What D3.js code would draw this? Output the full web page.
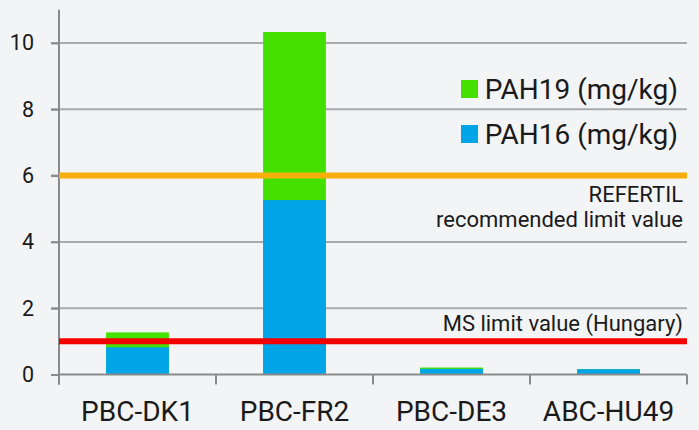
<!DOCTYPE html>
<html>
<head>
<meta charset="utf-8">
<script src="https://cdn.jsdelivr.net/npm/d3@7"></script>
<style>
  html, body { margin: 0; padding: 0; background: #f3f4f6; }
  svg { display: block; }
  text { font-family: Roboto, "Noto Sans", sans-serif; fill: #1a1a1a; }
</style>
</head>
<body>
<svg id="chart" width="699" height="430"></svg>
<script>
const categories = ["PBC-DK1", "PBC-FR2", "PBC-DE3", "ABC-HU49"];
const pah16 = [0.82, 5.26, 0.17, 0.16];
const pah19 = [1.27, 10.33, 0.21, 0.16];
const yTicks = [0, 2, 4, 6, 8, 10];
const limits = [
  { value: 6, color: "#f7ae0a", labels: ["REFERTIL", "recommended limit value"] },
  { value: 1, color: "#f50000", labels: ["MS limit value (Hungary)"] }
];
const legendItems = [
  { name: "PAH19 (mg/kg)", color: "#44e000" },
  { name: "PAH16 (mg/kg)", color: "#00a5e8" }
];

const svg = d3.select("#chart");
const x0 = 59, x1 = 687, yBase = 374.5, yTop = 9.8;

const x = d3.scaleBand().domain(categories).range([x0, x1]).paddingInner(0.6).paddingOuter(0.3);
const xTickScale = d3.scaleBand().domain(categories).range([x0, x1]);
const y = d3.scaleLinear().domain([0, 11]).range([yBase, yTop]);

// grid lines
svg.append("g").selectAll("line").data(yTicks.filter(d => d > 0)).join("line")
  .attr("x1", x0 - 8).attr("x2", x1).attr("y1", d => y(d)).attr("y2", d => y(d))
  .attr("stroke", "#a9aaac").attr("stroke-width", 2);

// y axis
const yAxis = d3.axisLeft(y).tickValues(yTicks).tickSize(8).tickPadding(17).tickFormat(d3.format("d"));
const gy = svg.append("g").attr("transform", `translate(${x0},0)`).call(yAxis);
gy.select(".domain").remove();
gy.selectAll(".tick line").attr("stroke", "#8a8a8a").attr("stroke-width", 2);
gy.selectAll(".tick text").attr("font-size", 21.5).attr("fill", "#1a1a1a").style("font-family", "Roboto, sans-serif");
svg.append("line").attr("x1", x0).attr("x2", x0).attr("y1", yTop).attr("y2", yBase + 10)
  .attr("stroke", "#8a8a8a").attr("stroke-width", 2);

// bars: PAH19 (total) behind, PAH16 in front
svg.append("g").selectAll("rect").data(categories).join("rect")
  .attr("x", d => x(d)).attr("width", x.bandwidth())
  .attr("y", (d, i) => y(pah19[i])).attr("height", (d, i) => yBase - y(pah19[i]))
  .attr("fill", legendItems[0].color);
svg.append("g").selectAll("rect").data(categories).join("rect")
  .attr("x", d => x(d)).attr("width", x.bandwidth())
  .attr("y", (d, i) => y(pah16[i])).attr("height", (d, i) => yBase - y(pah16[i]))
  .attr("fill", legendItems[1].color);

// x axis
svg.append("line").attr("x1", x0).attr("x2", x1).attr("y1", yBase).attr("y2", yBase)
  .attr("stroke", "#8a8a8a").attr("stroke-width", 2);
const tickXs = categories.map(c => xTickScale(c) + xTickScale.bandwidth());
svg.append("g").selectAll("line").data([x0].concat(tickXs)).join("line")
  .attr("x1", d => d).attr("x2", d => d).attr("y1", yBase).attr("y2", yBase + 10)
  .attr("stroke", "#8a8a8a").attr("stroke-width", 2);
svg.append("g").selectAll("text").data(categories).join("text")
  .attr("x", d => x(d) + x.bandwidth() / 2).attr("y", 421)
  .attr("text-anchor", "middle").attr("font-size", 28).text(d => d);

// limit lines
limits.forEach(l => {
  svg.append("line").attr("x1", x0).attr("x2", x1).attr("y1", y(l.value)).attr("y2", y(l.value))
    .attr("stroke", l.color).attr("stroke-width", 6);
});
// labels
svg.append("text").attr("x", 683).attr("y", 202).attr("text-anchor", "end").attr("font-size", 22).text(limits[0].labels[0]);
svg.append("text").attr("x", 683).attr("y", 227).attr("text-anchor", "end").attr("font-size", 22).text(limits[0].labels[1]);
svg.append("text").attr("x", 683).attr("y", 331).attr("text-anchor", "end").attr("font-size", 22).text(limits[1].labels[0]);

// legend
const lg = svg.append("g");
legendItems.forEach((it, i) => {
  const by = 99 + i * 45;
  lg.append("text").attr("x", 678).attr("y", by).attr("text-anchor", "end").attr("font-size", 28).text(it.name);
  lg.append("rect").attr("x", 461).attr("y", by - 19).attr("width", 17).attr("height", 18).attr("fill", it.color);
});
</script>
</body>
</html>
